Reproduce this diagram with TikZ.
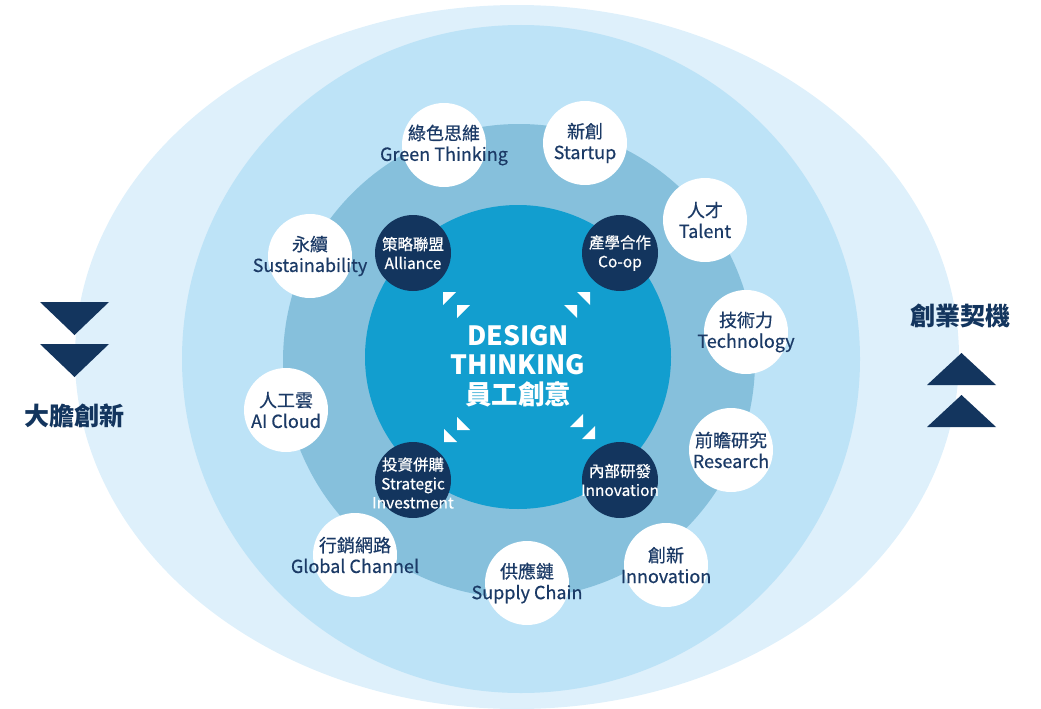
\documentclass[tikz,border=0pt]{standalone}
\usepackage{fontspec}
\setmainfont{Noto Sans CJK TC}
\newfontfamily\medfont{Noto Sans CJK TC}[FakeBold=0.5]
\definecolor{ring1}{HTML}{DEF0FB}
\definecolor{ring2}{HTML}{BDE3F7}
\definecolor{ring3}{HTML}{86C0DC}
\definecolor{core}{HTML}{129ECF}
\definecolor{navy}{HTML}{13355E}
\definecolor{txt}{HTML}{1B3A66}
\tikzset{
  wc/.style={circle,fill=white,minimum size=84pt,inner sep=0pt},
  nc/.style={circle,fill=navy,minimum size=76pt,inner sep=0pt},
  wtext/.style={text=txt,align=center,inner sep=0pt,font=\medfont\fontsize{18}{21}\selectfont},
  ntext/.style={text=white,align=center,inner sep=0pt,font=\medfont\fontsize{15.5}{19}\selectfont},
  side/.style={text=navy,font=\bfseries\fontsize{25}{28}\selectfont},
  tri/.style={fill=white},
  arr/.style={fill=navy}
}
\begin{document}
\begin{tikzpicture}[x=1pt,y=-1pt]
\useasboundingbox (0,0) rectangle (1041,709);
\fill[ring1] (517,357) ellipse [x radius=442, y radius=352];
\fill[ring2] (521,359) ellipse [x radius=339, y radius=334];
\fill[ring3] (519,361) ellipse [x radius=236, y radius=237];
\fill[core] (518,357) ellipse [x radius=153, y radius=152];
% white circles
\node[wc] (gt) at (444,145) {};
\node[wtext] at (gt) {綠色思維\\Green Thinking};
\node[wc] (su) at (585,143) {};
\node[wtext] at (su) {新創\\Startup};
\node[wc] (ta) at (705,220) {};
\node[wtext] at (ta) {人才\\Talent};
\node[wc] (te) at (746,332) {};
\node[wtext] at (te) {技術力\\Technology};
\node[wc] (re) at (731,450) {};
\node[wtext] at (re) {前瞻研究\\Research};
\node[wc] (in) at (666,565) {};
\node[wtext] at (in) {創新\\Innovation};
\node[wc] (sc) at (527,583) {};
\node[wtext] at (sc) {供應鏈\\Supply Chain};
\node[wc] (gc) at (355,555) {};
\node[wtext] at (gc) {行銷網路\\Global Channel};
\node[wc] (ai) at (286,410) {};
\node[wtext] at (ai) {人工雲\\AI Cloud};
\node[wc] (sb) at (310,256) {};
\node[wtext] at (sb) {永續\\Sustainability};
% navy circles
\node[nc] (al) at (413,253) {};
\node[ntext] at (al) {策略聯盟\\Alliance};
\node[nc] (co) at (620,253) {};
\node[ntext] at (co) {產學合作\\Co-op};
\node[nc] (si) at (413,480) {};
\node[ntext] at ([yshift=-3pt]si) {投資併購\\Strategic\\Investment};
\node[nc] (ri) at (620,480) {};
\node[ntext] at (ri) {內部研發\\Innovation};
% center title
\node[text=white,align=center,inner sep=0pt,font=\bfseries\fontsize{26.5}{29.5}\selectfont] (dt) at (518,366) {DESIGN\\THINKING\\員工創意};
% corner triangles
\fill[tri] (443,292) -- (456,292) -- (443,305) -- cycle;
\fill[tri] (457,305) -- (470,305) -- (457,318) -- cycle;
\fill[tri] (590,292) -- (577,292) -- (590,305) -- cycle;
\fill[tri] (577,305) -- (564,305) -- (577,318) -- cycle;
\fill[tri] (457,430) -- (470,430) -- (457,417) -- cycle;
\fill[tri] (444,442) -- (457,442) -- (444,429) -- cycle;
\fill[tri] (583,427) -- (570,427) -- (583,414) -- cycle;
\fill[tri] (595,439) -- (582,439) -- (595,426) -- cycle;
% side labels and arrows
\fill[arr] (40,302) -- (109,302) -- (74.5,335) -- cycle;
\fill[arr] (40,344) -- (109,344) -- (74.5,377) -- cycle;
\node[side] (bl) at (74,416) {大膽創新};
\node[side] (br) at (960,316) {創業契機};
\fill[arr] (927,385) -- (996,385) -- (961.5,353) -- cycle;
\fill[arr] (927,427) -- (996,427) -- (961.5,395) -- cycle;
\end{tikzpicture}
\end{document}
